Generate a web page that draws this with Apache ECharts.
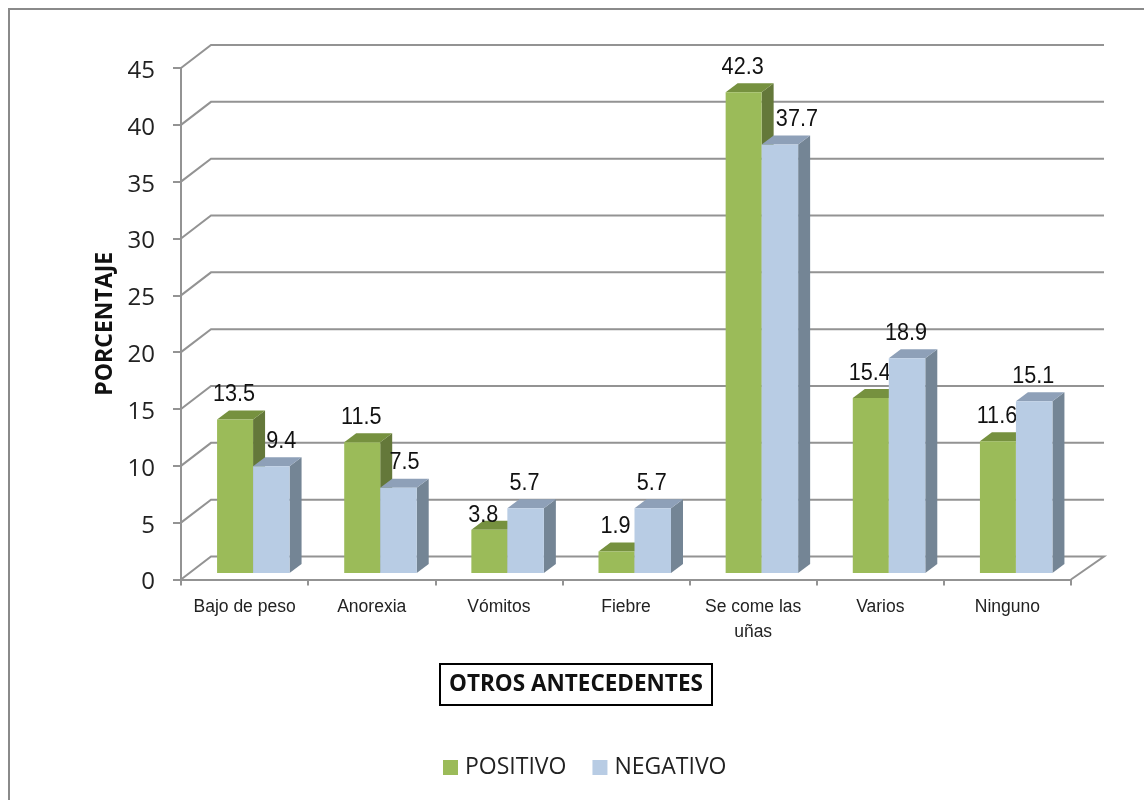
<!DOCTYPE html>
<html>
<head>
<meta charset="utf-8">
<script src="https://cdn.jsdelivr.net/npm/echarts@6/dist/echarts.min.js"></script>
<style>html,body{margin:0;padding:0;background:#fff}#c{width:1144px;height:800px}</style>
</head>
<body>
<div id="c"></div>
<script>
const categories = ['Bajo de peso', 'Anorexia', 'Vómitos', 'Fiebre', 'Se come las\nuñas', 'Varios', 'Ninguno'];
const positivo = [13.5, 11.5, 3.8, 1.9, 42.3, 15.4, 11.6];
const negativo = [9.4, 7.5, 5.7, 5.7, 37.7, 18.9, 15.1];
const ticks = [0, 5, 10, 15, 20, 25, 30, 35, 40, 45];

// Hand-placed data labels in the reference: [series][category] -> [dx, dy]
const labelNudge = { '1-0': [11, 0], '1-1': [7, 0], '1-4': [18, 0], '0-2': [-5, 11] };

const WALL_DX = 30, WALL_DY = -23, GRID_COLOR = '#939393';
const DEPTH_DX = 12, DEPTH_DY = -9, BASE_LIFT = 6.5;
const faces = [
  { front: '#9BBB59', side: '#64783A', top: '#76913F', a: -27.5, b: 8.5 },
  { front: '#B8CCE4', side: '#748595', top: '#8EA0B8', a: 8.5, b: 45 }
];

function wallItem(params, api) {
  const cs = params.coordSys;
  const y = api.coord([0, api.value(1)])[1];
  const left = cs.x, right = cs.x + cs.width;
  const pts = [[left, y], [left + WALL_DX, y + WALL_DY], [right + WALL_DX + 3, y + WALL_DY]];
  if (api.value(1) === 0) pts.push([right, y]);
  return { type: 'polyline', shape: { points: pts }, style: { stroke: GRID_COLOR, lineWidth: 2, fill: null } };
}

function barItem(sIdx) {
  const f = faces[sIdx];
  return function (params, api) {
    const i = api.value(0), v = api.value(1);
    const cx = api.coord([i, 0])[0];
    const y0 = api.coord([i, 0])[1] - BASE_LIFT;
    const y1 = y0 - (api.coord([i, 0])[1] - api.coord([i, v])[1]);
    const xa = cx + f.a, xb = cx + f.b;
    const nudge = labelNudge[sIdx + '-' + i] || [0, 0];
    return {
      type: 'group',
      children: [
        { type: 'polygon', shape: { points: [[xb, y0], [xb + DEPTH_DX, y0 + DEPTH_DY], [xb + DEPTH_DX, y1 + DEPTH_DY], [xb, y1]] }, style: { fill: f.side } },
        { type: 'polygon', shape: { points: [[xa, y1], [xa + DEPTH_DX, y1 + DEPTH_DY], [xb + DEPTH_DX, y1 + DEPTH_DY], [xb, y1]] }, style: { fill: f.top } },
        { type: 'rect', shape: { x: xa, y: y1, width: xb - xa, height: y0 - y1 }, style: { fill: f.front } },
        { type: 'text', z2: 100,
          x: (xa + xb) / 2 + nudge[0] - 1, y: y1 - 25 + nudge[1], scaleX: 0.9,
          style: {
            text: v.toFixed(1), x: 0, y: 0,
            fill: '#111', fontSize: 24, fontFamily: 'Liberation Sans', align: 'center', verticalAlign: 'middle'
        } }
      ]
    };
  };
}

const chart = echarts.init(document.getElementById('c'), null, { renderer: 'canvas' });
chart.setOption({
  animation: false,
  backgroundColor: '#fff',
  graphic: [{ type: 'rect', silent: true, shape: { x: 9, y: 9, width: 1300, height: 1000 }, style: { fill: null, stroke: '#8a8a8a', lineWidth: 2 } }],
  title: {
    text: 'OTROS ANTECEDENTES', left: 440, top: 664,
    borderColor: '#000', borderWidth: 2, padding: [9, 9, 9, 9],
    textStyle: { fontFamily: 'Open Sans', fontWeight: 'bold', fontSize: 22.5, color: '#111' }
  },
  legend: {
    data: ['POSITIVO', 'NEGATIVO'], left: 438, top: 751, icon: 'rect', itemWidth: 15, itemHeight: 15, itemGap: 26,
    textStyle: { fontFamily: 'Open Sans', fontSize: 23, color: '#222', padding: [0, 0, 0, 2] }
  },
  grid: { left: 181, right: 73, top: 68, bottom: 220.5, containLabel: false },
  xAxis: {
    type: 'category', data: categories, boundaryGap: true,
    axisLine: { lineStyle: { color: GRID_COLOR, width: 2 } },
    axisTick: { show: true, length: 6, lineStyle: { color: GRID_COLOR, width: 2 } },
    axisLabel: { interval: 0, margin: 15, fontFamily: 'Liberation Sans', fontSize: 17.5, color: '#222', lineHeight: 25 }
  },
  yAxis: {
    type: 'value', min: 0, max: 45, interval: 5,
    name: 'PORCENTAJE', nameLocation: 'middle', nameGap: 64, nameRotate: 90,
    nameTextStyle: { fontFamily: 'Open Sans', fontWeight: 'bold', fontSize: 23, color: '#111' },
    splitLine: { show: false },
    axisLine: { show: true, lineStyle: { color: GRID_COLOR, width: 2 } },
    axisTick: { show: true, length: 8, lineStyle: { color: GRID_COLOR, width: 2 } },
    axisLabel: { margin: 26, fontFamily: 'Open Sans', fontSize: 24, color: '#222', verticalAlign: 'top', lineHeight: 6 }
  },
  series: [
    { type: 'custom', z: 1, silent: true, renderItem: wallItem, encode: { x: 0, y: 1 }, data: ticks.map(t => [0, t]) },
    { type: 'custom', name: 'POSITIVO', z: 2, itemStyle: { color: '#9BBB59' }, renderItem: barItem(0), encode: { x: 0, y: 1 }, data: positivo.map((v, i) => [i, v]) },
    { type: 'custom', name: 'NEGATIVO', z: 3, itemStyle: { color: '#B8CCE4' }, renderItem: barItem(1), encode: { x: 0, y: 1 }, data: negativo.map((v, i) => [i, v]) }
  ]
});
</script>
</body>
</html>
